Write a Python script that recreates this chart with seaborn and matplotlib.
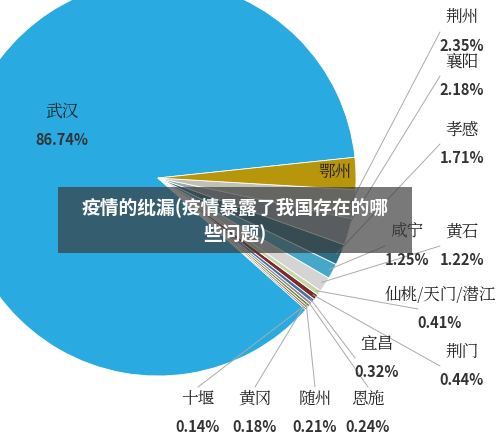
import numpy as np
import matplotlib
matplotlib.use("Agg")
import matplotlib.pyplot as plt
import seaborn as sns

sns.set_theme(style="white")
plt.rcParams['font.family'] = ['Noto Sans CJK SC', 'DejaVu Sans']

# ------- DATA ---------
cities = ["武汉", "十堰", "黄冈", "随州", "恩施", "宜昌", "荆门", "仙桃/天门/潜江",
          "黄石", "咸宁", "孝感", "襄阳", "荆州", "鄂州"]
shares = [86.74, 0.14, 0.18, 0.21, 0.24, 0.32, 0.44, 0.41,
          1.22, 1.25, 1.71, 2.18, 2.35, 2.61]
value_labels = ["86.74%", "0.14%", "0.18%", "0.21%", "0.24%", "0.32%", "0.44%", "0.41%",
                "1.22%", "1.25%", "1.71%", "2.18%", "2.35%", ""]
colors = ["#29abe2", "#5b6f8a", "#9a6b4a", "#6b7f3a", "#8a8a8a", "#4c6fa0", "#7a2a2a",
          "#c6d6a8", "#d4d4d4", "#45a8c6", "#2f6f86", "#9aa7ad", "#bfc1b8", "#b8960c"]

# label positions in pixels (x, y from top): name, value
label_pos = {
    "武汉": (62, 112), "荆州": (462, 18), "襄阳": (462, 62), "孝感": (462, 130),
    "鄂州": (335, 172), "黄石": (462, 232), "咸宁": (407, 232),
    "仙桃/天门/潜江": (440, 295), "宜昌": (377, 344), "荆门": (462, 352),
    "十堰": (198, 399), "黄冈": (255, 399), "随州": (315, 399), "恩施": (368, 399),
}
bottom_row = ("十堰", "黄冈", "随州", "恩施")

W, H = 500, 442
fig = plt.figure(figsize=(5, 4.42), dpi=100)
ax = fig.add_axes([0, 0, 1, 1])
cx, cy, r = 158, H - 178, 198
wedges, _ = ax.pie(shares, colors=colors, startangle=6, counterclock=True,
                   center=(cx, cy), radius=r,
                   wedgeprops=dict(edgecolor="white", linewidth=0.6))
ax.set_xlim(0, W)
ax.set_ylim(0, H)
ax.set_aspect("equal")
ax.axis("off")

for w, name, val in zip(wedges, cities, value_labels):
    lx, ly = label_pos[name]
    ax.text(lx, H - ly, name, ha="center", va="center", fontsize=12, color="#222222",
            family=['Noto Serif CJK SC', 'Noto Sans CJK SC', 'DejaVu Sans'])
    if val:
        ax.text(lx, H - ly - 28, val, ha="center", va="center", fontsize=10.5,
                fontweight="bold", color="#333333")
    if name in ("武汉", "鄂州"):
        continue
    th = np.deg2rad((w.theta1 + w.theta2) / 2)
    px, py = cx + r * 0.98 * np.cos(th), cy + r * 0.98 * np.sin(th)
    if name in bottom_row:
        ex, ey = lx, H - ly + 12
    else:
        ex, ey = lx - 22, H - ly - 14
    ax.plot([px, ex], [py, ey], color="#aaaaaa", linewidth=0.7)

# title banner
ax.add_patch(plt.Rectangle((58, H - 253), 354, 66, color="#3a3a3a", alpha=0.68,
                           zorder=5, linewidth=0))
ax.text(235, H - 220, "疫情的纰漏(疫情暴露了我国存在的哪\n些问题)", ha="center", va="center",
        fontsize=13.5, fontweight="bold", color="white", zorder=6, linespacing=1.4)

fig.savefig("out.png", dpi=100)
